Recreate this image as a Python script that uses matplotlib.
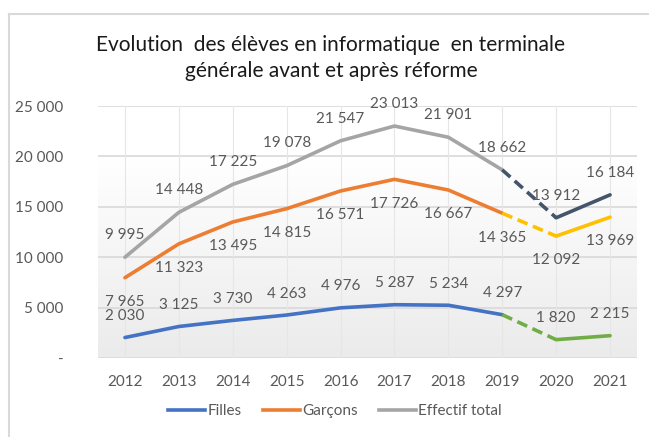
import matplotlib
matplotlib.use("Agg")
import matplotlib.pyplot as plt
import numpy as np
from matplotlib.lines import Line2D
from matplotlib.colors import LinearSegmentedColormap

plt.rcParams['font.family'] = ['Lato', 'DejaVu Sans']

years = ["2012", "2013", "2014", "2015", "2016", "2017", "2018", "2019", "2020", "2021"]
filles = [2030, 3125, 3730, 4263, 4976, 5287, 5234, 4297, 1820, 2215]
garcons = [7965, 11323, 13495, 14815, 16571, 17726, 16667, 14365, 12092, 13969]
total = [9995, 14448, 17225, 19078, 21547, 23013, 21901, 18662, 13912, 16184]
series_names = ["Filles", "Garçons", "Effectif total"]
y_ticks = [0, 5000, 10000, 15000, 20000, 25000]
title = "Evolution  des élèves en informatique  en terminale\ngénérale avant et après réforme"

W, H = 649, 437
fig = plt.figure(figsize=(W / 100, H / 100), dpi=100)
fig.patch.set_facecolor("white")

# outer frame (top and left visible)
fig.add_artist(Line2D([9 / W, 1.0], [1 - 14 / H, 1 - 14 / H], color="#d9d9d9", lw=1.5))
fig.add_artist(Line2D([9 / W, 9 / W], [1 - 14 / H, 0.0], color="#d9d9d9", lw=1.5))

left, right, top, bottom = 98, 637, 106, 358
ax = fig.add_axes([left / W, 1 - bottom / H, (right - left) / W, (bottom - top) / H])
x = np.arange(len(years))
ax.set_xlim(-0.5, len(years) - 0.5)
ax.set_ylim(0, 25000)

# gradient background
grad = np.linspace(0, 1, 256).reshape(-1, 1)
cmap = LinearSegmentedColormap.from_list("g", [(0, "#ebebeb"), (0.8, "#ffffff"), (1, "#ffffff")])
ax.imshow(grad, aspect="auto", cmap=cmap, origin="lower",
          extent=[-0.5, len(years) - 0.5, 0, 25000], zorder=0)

for s in ax.spines.values():
    s.set_visible(False)
for yv in y_ticks:
    ax.axhline(yv, color="#d9d9d9", lw=1.2, zorder=1)
for xv in x:
    ax.axvline(xv, color="#e6e6e6", lw=0.8, zorder=1)

ax.set_xticks(x)
ax.set_xticklabels(years)
ax.set_yticks(y_ticks)
ax.set_yticklabels(["-" if v == 0 else f"{v:,}".replace(",", " ") for v in y_ticks])
ax.tick_params(length=0, colors="#595959", labelsize=11)
ax.tick_params(axis="x", pad=12)
ax.tick_params(axis="y", pad=25)

main_colors = ["#4472C4", "#ED7D31", "#A5A5A5"]
post_colors = ["#70AD47", "#FFC000", "#44546A"]
lw = 2.6
data = [filles, garcons, total]
offsets = [15.5, -17.5, 16]
for vals, c1, c2, name, off in zip(data, main_colors, post_colors, series_names, offsets):
    ax.plot(x[:8], vals[:8], color=c1, lw=lw, zorder=3, label=name, solid_capstyle="round")
    ax.plot(x[7:9], vals[7:9], color=c2, lw=lw, ls=(0, (3, 1.6)), zorder=3)
    ax.plot(x[8:10], vals[8:10], color=c2, lw=lw, zorder=3, solid_capstyle="round")
    for xi, v in zip(x, vals):
        ax.annotate(f"{v:,}".replace(",", " "), (xi, v), xytext=(0, off),
                    textcoords="offset points", ha="center", va="center",
                    fontsize=11, color="#595959", zorder=4)

fig.text(331 / W, 1 - 58 / H, title, ha="center", va="center", fontsize=15,
         color="#1a1a1a", linespacing=1.35)

handles = [Line2D([], [], color=c, lw=lw) for c in main_colors]
fig.legend(handles, series_names, loc="center", bbox_to_anchor=(335 / W, 1 - 411 / H),
           ncol=3, frameon=False, fontsize=11, labelcolor="#595959",
           handlelength=2.4, handletextpad=0.15, columnspacing=1.4)

fig.savefig("out.png", dpi=100)
